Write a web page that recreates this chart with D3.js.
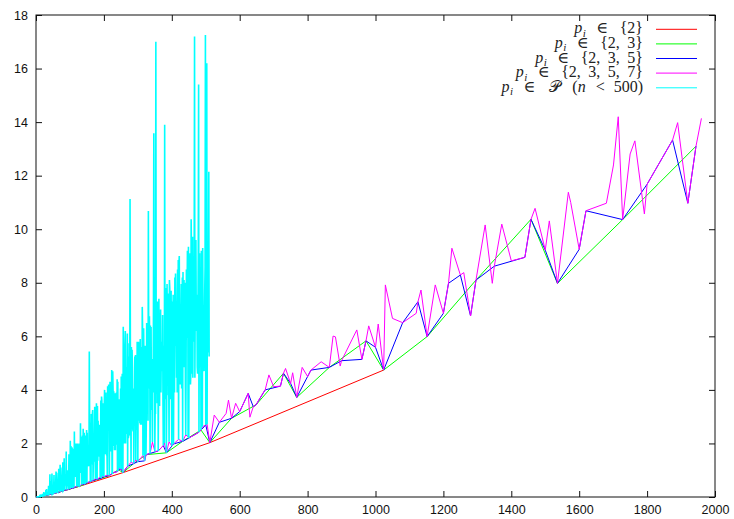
<!DOCTYPE html>
<html>
<head>
<meta charset="utf-8">
<script src="https://cdn.jsdelivr.net/npm/d3@7"></script>
<style>
body { margin: 0; background: #fff; }
svg { display: block; }
.tick text { font-family: "Liberation Sans", Arial, sans-serif; font-size: 12.5px; fill: #111; }
.tick line { stroke: #111; }
</style>
</head>
<body>
<div id="chart"></div>
<script>
// transform sizes n whose prime factors are all in {2,3,5,7}, and the measured time for each
const n7 = [1,2,3,4,5,6,7,8,9,10,
  12,14,15,16,18,20,21,24,25,27,
  28,30,32,35,36,40,42,45,48,49,
  50,54,56,60,63,64,70,72,75,80,
  81,84,90,96,98,100,105,108,112,120,
  125,126,128,135,140,144,147,150,160,162,
  168,175,180,189,192,196,200,210,216,224,
  225,240,243,245,250,252,256,270,280,288,
  294,300,315,320,324,336,343,350,360,375,
  378,384,392,400,405,420,432,441,448,450,
  480,486,490,500,504,512,
  525,540,560,567,576,588,600,625,630,640,
  648,672,675,686,700,720,729,735,750,756,
  768,784,800,810,840,864,875,882,896,900,
  945,960,972,980,1000,1008,1024,1029,1050,1080,
  1120,1125,1134,1152,1176,1200,1215,1225,1250,1260,
  1280,1296,1323,1344,1350,1372,1400,1440,1458,1470,
  1500,1512,1536,1568,1575,1600,1620,1680,1701,1715,
  1728,1750,1764,1792,1800,1875,1890,1920,1944,1960];
const t7 = [0,0.001,0.002,0.004,0.006,0.007,0.009,0.011,0.014,0.016,
  0.02,0.025,0.028,0.03,0.036,0.04,0.045,0.05,0.056,0.06,
  0.063,0.066,0.072,0.082,0.08,0.09,0.1,0.11,0.11,0.13,
  0.125,0.135,0.145,0.16,0.18,0.17,0.2,0.2,0.22,0.23,
  0.25,0.26,0.27,0.28,0.32,0.31,0.34,0.33,0.36,0.39,
  0.43,0.42,0.4,0.47,0.49,0.48,0.54,0.53,0.57,0.59,
  0.63,0.68,0.66,0.74,0.7,0.78,0.76,0.82,0.8,0.86,
  0.9,0.95,1.02,1.08,1.05,1.06,0.91,1.15,1.3,1.25,
  1.38,1.32,1.55,1.35,1.58,1.62,2.05,1.7,1.72,1.92,
  2.02,1.65,2.06,1.9,1.98,2.15,2.08,2.32,2.25,2.2,
  2.42,2.5,2.62,2.69,2.72,2.03,
  3.06,2.79,3.12,3.62,2.94,3.5,3.19,3.87,2.98,3.37,
  3.44,3.95,4.0,4.56,4.12,4.14,4.62,4.8,4.24,4.64,
  3.72,4.84,4.5,4.74,5.05,4.84,6.01,5.98,4.89,5.09,
  6.24,5.14,5.83,6.39,5.59,6.46,4.74,7.92,6.67,6.51,
  6.86,7.29,7.73,5.99,7.92,6.86,7.98,9.29,8.29,8.38,
  6.76,8.1,10.16,7.98,8.62,10.19,8.82,8.95,10.37,10.78,
  9.22,10.31,7.98,11.38,11.0,9.25,10.69,10.97,12.4,14.2,
  10.36,12.81,13.3,10.57,11.68,13.33,13.98,10.97,13.1,14.14];

// sizes used by the other smooth series (times are the same measurements as above)
const n5 = [1,2,3,4,5,6,8,9,10,12,15,16,18,20,24,25,27,30,32,36,40,45,48,50,54,60,64,72,75,80,81,90,96,100,
  108,120,125,128,135,144,150,160,162,180,192,200,216,225,240,243,250,256,270,288,300,320,324,360,375,384,
  400,405,432,450,480,486,500,512,540,576,600,625,640,648,675,720,729,750,768,800,810,864,900,960,972,1000,
  1024,1080,1125,1152,1200,1215,1250,1280,1296,1350,1440,1458,1500,1536,1600,1620,1728,1800,1875,1920,1944];
const n3 = [1,2,3,4,6,8,9,12,16,18,24,27,32,36,48,54,64,72,81,96,108,128,144,162,192,216,243,256,288,324,
  384,432,486,512,576,648,729,768,864,972,1024,1152,1296,1458,1536,1728,1944];
const n2 = [1,2,4,8,16,32,64,128,256,512,1024];

// every size n = 1..510
const allT = [0,0.001,0.002,0.004,0.006,0.007,0.009,0.011,0.014,0.016,
  0.04,0.02,0.05,0.025,0.028,0.03,0.09,0.036,0.12,0.04,
  0.045,0.07,0.18,0.05,0.056,0.08,0.06,0.063,0.26,0.066,
  0.3,0.072,0.1,0.15,0.082,0.08,0.42,0.17,0.12,0.09,
  0.85,0.1,0.6,0.14,0.11,0.24,0.88,0.11,0.13,0.125,
  0.32,0.3,0.82,0.135,0.3,0.145,0.35,0.5,0.95,0.16,
  0.9,0.55,0.18,0.17,0.35,0.33,1.05,0.4,0.6,0.2,
  1.2,0.2,1.1,0.7,0.22,0.45,0.4,0.4,1.3,0.23,
  0.25,0.85,1.45,0.26,0.5,0.85,0.7,0.42,1.7,0.27,
  0.5,0.7,0.75,1.0,0.55,0.28,1.6,0.32,0.5,0.31,
  2.1,0.8,1.9,0.7,0.34,1.85,1.75,0.33,1.8,0.7,
  1.4,0.36,2.45,0.9,1.2,1.2,0.75,2.0,0.9,0.39,
  0.8,2.0,1.6,1.25,0.43,0.42,2.0,0.4,1.7,0.9,
  2.75,0.9,1.0,2.25,0.47,1.0,2.3,1.4,2.55,0.49,
  2.0,2.4,1.05,0.48,1.55,2.3,0.54,1.7,2.5,0.53,
  2.4,1.3,1.2,1.15,1.9,1.15,5.43,2.8,2.4,0.57,
  1.75,0.59,3.1,2.15,1.2,3.1,3.25,0.63,1.35,1.35,
  1.5,2.3,3.37,2.0,0.68,1.2,2.7,3.5,3.1,0.66,
  3.4,1.35,2.85,1.95,2.45,2.15,1.5,2.7,0.74,1.6,
  3.6,0.7,3.75,3.6,1.5,0.78,3.5,1.5,3.3,0.76,
  3.4,4.0,2.15,1.6,2.85,3.9,2.15,1.55,1.75,0.82,
  4.14,3.25,3.5,4.2,3.1,0.8,2.45,4.3,3.5,1.7,
  1.8,2.7,4.74,0.86,0.9,4.7,4.0,1.9,3.95,2.45,
  1.75,2.55,3.87,1.75,3.4,3.8,3.9,1.95,4.4,0.95,
  4.3,2.0,1.02,3.65,1.08,3.25,2.15,2.85,4.05,1.05,
  4.5,1.06,2.55,4.6,2.0,0.91,6.36,3.65,3.25,2.0,
  3.0,5.7,6.2,2.0,4.45,2.35,4.85,4.3,6.11,1.15,
  5.74,2.2,2.3,5.25,2.3,2.85,11.13,5.4,3.25,1.3,
  5.6,4.3,5.5,4.85,2.55,2.45,4.05,1.25,2.85,3.4,
  5.25,4.85,5.3,1.38,4.6,3.65,2.5,5.8,3.1,1.32,
  4.45,5.8,5.55,2.85,4.7,2.75,5.9,2.7,5.4,3.65,
  5.6,2.7,7.1,6.2,1.55,5.25,6.3,5.0,3.65,1.35,
  5.65,3.65,3.1,1.58,2.85,6.5,5.8,4.45,4.7,2.85,
  10.68,5.65,4.05,6.75,5.4,1.62,6.4,3.25,6.35,3.25,
  3.8,3.3,2.05,5.15,3.9,7.0,13.58,4.3,7.0,1.7,
  3.25,3.1,17.0,5.65,5.95,6.1,3.5,7.3,7.04,1.72,
  3.9,7.4,3.5,3.4,6.1,5.8,7.0,3.9,5.4,5.0,
  5.8,4.7,6.8,3.6,1.92,5.65,4.3,2.02,13.9,3.65,
  7.15,7.8,7.2,1.65,3.65,7.95,5.8,6.9,7.6,3.8,
  4.3,2.06,8.1,7.8,6.6,3.65,7.5,7.7,4.05,1.9,
  7.3,6.5,4.85,7.55,1.98,5.0,5.4,3.9,8.2,5.65,
  8.35,7.3,6.35,4.45,7.0,3.9,8.5,4.2,8.85,2.15,
  8.7,9.0,6.5,6.2,4.2,6.75,6.5,7.95,4.05,6.1,
  8.2,2.08,8.4,5.4,5.55,8.1,4.85,7.0,8.0,4.05,
  2.32,4.45,8.5,5.95,7.55,9.2,8.6,2.25,9.35,2.2,
  6.1,8.4,8.6,9.1,4.2,4.6,10.37,9.0,4.6,5.1,
  9.72,4.45,9.0,5.8,5.95,9.2,17.2,4.45,7.3,6.9,
  9.6,6.75,6.2,7.55,4.85,4.6,6.6,9.3,15.4,2.42,
  6.35,9.1,5.4,4.85,8.2,2.5,9.2,7.3,9.0,2.62,
  9.3,6.75,5.8,5.0,4.7,6.35,7.7,8.6,17.25,2.69,
  9.2,9.4,16.2,2.72,8.9,5.5,5.4,8.6,12.15,5.25];
const allN = d3.range(1, allT.length + 1);

const xTicks = [0,200,400,600,800,1000,1200,1400,1600,1800,2000];
const yTicks = [0,2,4,6,8,10,12,14,16,18];
const legendSets = ["{2}", "{2, 3}", "{2, 3, 5}", "{2, 3, 5, 7}", "𝒫"];
const colors = ["#ff0000", "#00ff00", "#0000ff", "#ff00ff", "#00ffff"];

const W = 734, H = 519;
const margin = {top: 15, right: 19, bottom: 22, left: 36};

const svg = d3.select("#chart").append("svg")
  .attr("width", W).attr("height", H);

const x = d3.scaleLinear().domain([0, 2000]).range([margin.left, W - margin.right]);
const y = d3.scaleLinear().domain([0, 18]).range([H - margin.bottom, margin.top]);

// time lookup shared by the smooth series
const timeOf = new Map(n7.map((n, i) => [n, t7[i]]));
const seriesData = [
  n2.map(n => [n, timeOf.get(n)]),
  n3.map(n => [n, timeOf.get(n)]),
  n5.map(n => [n, timeOf.get(n)]),
  n7.map((n, i) => [n, t7[i]]),
  allN.map((n, i) => [n, allT[i]])
];

// axes, ticks pointing inwards on all four sides
const tk = 6;
svg.append("g").attr("transform", `translate(0,${y(0)})`)
  .call(d3.axisBottom(x).tickValues(xTicks).tickFormat(d3.format("d")).tickSizeInner(-tk).tickSizeOuter(0).tickPadding(8))
  .call(g => g.select(".domain").remove());
svg.append("g").attr("transform", `translate(0,${y(18)})`)
  .call(d3.axisTop(x).tickValues(xTicks).tickSizeInner(-tk).tickSizeOuter(0).tickFormat(""))
  .call(g => g.select(".domain").remove());
svg.append("g").attr("transform", `translate(${x(0)},0)`)
  .call(d3.axisLeft(y).tickValues(yTicks).tickSizeInner(-tk).tickSizeOuter(0).tickPadding(8))
  .call(g => g.select(".domain").remove());
svg.append("g").attr("transform", `translate(${x(2000)},0)`)
  .call(d3.axisRight(y).tickValues(yTicks).tickSizeInner(-tk).tickSizeOuter(0).tickFormat(""))
  .call(g => g.select(".domain").remove());

svg.append("rect")
  .attr("x", x(0)).attr("y", y(18))
  .attr("width", x(2000) - x(0)).attr("height", y(0) - y(18))
  .attr("fill", "none").attr("stroke", "#111").attr("stroke-width", 1);

const line = d3.line().x(d => x(d[0])).y(d => y(d[1]));

seriesData.forEach((d, i) => {
  svg.append("path")
    .datum(d)
    .attr("d", line)
    .attr("fill", "none")
    .attr("stroke", colors[i])
    .attr("stroke-width", i === 4 ? 1.6 : 1);
});

// legend
const legendY = [29.3, 43.9, 58.5, 73.1, 87.8];
legendSets.forEach((s, i) => {
  const t = svg.append("text")
    .attr("x", 643).attr("y", legendY[i] + 4)
    .attr("text-anchor", "end")
    .attr("font-family", "'Liberation Serif', 'DejaVu Serif', serif")
    .attr("font-size", 16)
    .attr("fill", "#222");
  t.append("tspan").attr("font-style", "italic").text("p");
  t.append("tspan").attr("font-style", "italic").attr("font-size", 11).attr("dx", 0.5).attr("dy", 3.5).text("i");
  t.append("tspan").attr("dx", 10.5).attr("dy", -3.5).text("∈");
  if (i < 4) {
    t.append("tspan").attr("dx", 11.5).attr("word-spacing", 3.5).text(s);
  } else {
    t.append("tspan").attr("dx", 14).text(s);
    t.append("tspan").attr("dx", 11).text("(");
    t.append("tspan").attr("font-style", "italic").text("n");
    t.append("tspan").attr("dx", 10).text("<");
    t.append("tspan").attr("dx", 9).text("500)");
  }
  svg.append("line")
    .attr("x1", 656).attr("x2", 697)
    .attr("y1", legendY[i]).attr("y2", legendY[i])
    .attr("stroke", colors[i]).attr("stroke-width", 1);
});
</script>
</body>
</html>
